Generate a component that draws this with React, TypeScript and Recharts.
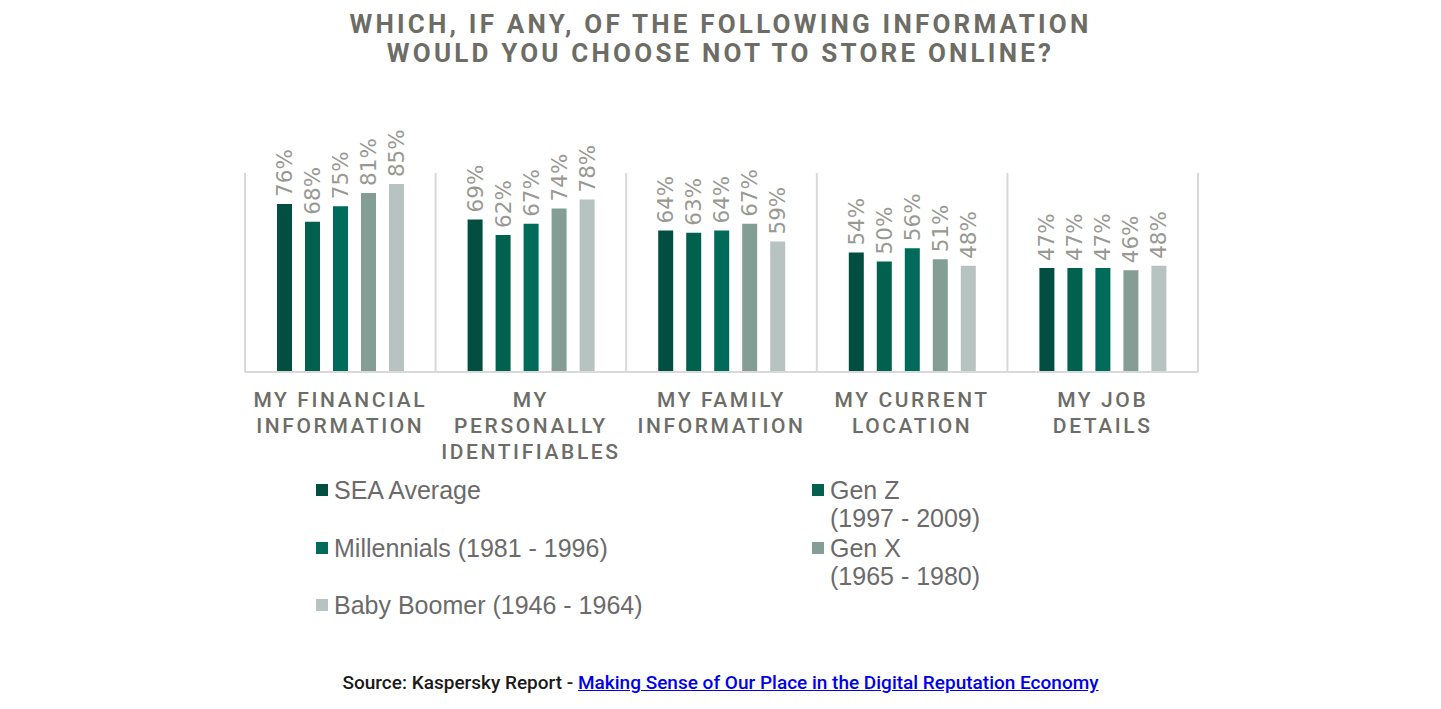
import React from 'react';
import { BarChart, Bar, XAxis, YAxis, ReferenceLine } from 'recharts';

const tickLines = [
  ['MY FINANCIAL', 'INFORMATION'],
  ['MY', 'PERSONALLY', 'IDENTIFIABLES'],
  ['MY FAMILY', 'INFORMATION'],
  ['MY CURRENT', 'LOCATION'],
  ['MY JOB', 'DETAILS'],
];

const seaAverage = [76, 69, 64, 54, 47];
const genZ = [68, 62, 63, 50, 47];
const millennials = [75, 67, 64, 56, 47];
const genX = [81, 74, 67, 51, 46];
const babyBoomer = [85, 78, 59, 48, 48];

const seriesKeys = ['sea', 'genZ', 'millennials', 'genX', 'boomer'];
const seriesColors = ['#024f42', '#02604f', '#006b5a', '#849e96', '#b7c3c0'];
const legendLabels = [
  ['SEA Average'],
  ['Gen Z', '(1997 - 2009)'],
  ['Millennials (1981 - 1996)'],
  ['Gen X', '(1965 - 1980)'],
  ['Baby Boomer (1946 - 1964)'],
];
const gridEdges = [0, 1, 2, 3, 4, 5];

const data = tickLines.map((lines, i) => ({
  name: lines.join(' '),
  idx: i,
  sea: seaAverage[i],
  genZ: genZ[i],
  millennials: millennials[i],
  genX: genX[i],
  boomer: babyBoomer[i],
}));

const GRID = '#d9d9d9';

const CategoryTick = (props: any) => {
  const { x, y, payload } = props;
  const lines = tickLines[payload.index] || [payload.value];
  return (
    <g transform={`translate(${x},${y})`}>
      {lines.map((line, i) => (
        <text
          key={i}
          x={0}
          y={29 + i * 26}
          textAnchor="middle"
          fill="#6d6d68"
          fontSize={21}
          fontWeight={500}
          fontFamily="Roboto"
          letterSpacing={2.6}
        >
          {line}
        </text>
      ))}
    </g>
  );
};

const renderLabel = (props: any) => {
  const { x, y, width, value } = props;
  const cx = Number(x) + Number(width) / 2;
  const ty = Number(y) - 7;
  return (
    <text
      transform={`translate(${cx},${ty}) rotate(-90)`}
      textAnchor="start"
      dominantBaseline="central"
      fill="#999994"
      fontSize={21.5}
      fontFamily="DejaVu Sans"
    >
      {`${value}%`}
    </text>
  );
};

export default function App() {
  return (
    <div style={{ position: 'absolute', left: 0, top: 0, width: 1441, height: 709, background: '#fff' }}>
      <div
        style={{
          position: 'absolute',
          top: 10,
          left: 0,
          width: 1441,
          textAlign: 'center',
          fontFamily: 'Roboto',
          fontWeight: 700,
          fontSize: 26,
          lineHeight: '29px',
          letterSpacing: 3.2,
          color: '#6d6d66',
        }}
      >
        WHICH, IF ANY, OF THE FOLLOWING INFORMATION
        <br />
        WOULD YOU CHOOSE NOT TO STORE ONLINE?
      </div>

      <div style={{ position: 'absolute', left: 0, top: 0 }}>
        <BarChart
          width={1441}
          height={709}
          data={data}
          margin={{ top: 173, right: 243, bottom: 237, left: 245 }}
          barSize={15}
          barGap={13}
        >
          <XAxis
            dataKey="name"
            interval={0}
            height={100}
            tick={<CategoryTick />}
            tickLine={false}
            axisLine={{ stroke: GRID, strokeWidth: 2 }}
            tickMargin={0}
          />
          <XAxis xAxisId="grid" type="number" dataKey="idx" domain={[0, 5]} allowDataOverflow hide />
          <YAxis domain={[0, 90]} hide />
          {gridEdges.map((e) => (
            <ReferenceLine key={e} xAxisId="grid" x={e} stroke={GRID} strokeWidth={2} />
          ))}
          {seriesKeys.map((k, i) => (
            <Bar
              key={k}
              dataKey={k}
              fill={seriesColors[i]}
              isAnimationActive={false}
              label={renderLabel}
            />
          ))}
        </BarChart>
      </div>

      {legendLabels.map((lines, i) => {
        const col = i % 2;
        const row = Math.floor(i / 2);
        const left = col === 0 ? 316 : 812;
        const top = 476 + row * 57.5;
        return (
          <div key={i} style={{ position: 'absolute', left, top }}>
            <div
              style={{
                position: 'absolute',
                left: 0,
                top: 8,
                width: 12,
                height: 12,
                background: seriesColors[i],
              }}
            />
            <div
              style={{
                position: 'absolute',
                left: 18,
                top: 0,
                whiteSpace: 'nowrap',
                fontFamily: 'Liberation Sans',
                fontSize: 25,
                lineHeight: '28px',
                color: '#6b6b6b',
              }}
            >
              {lines.map((l, j) => (
                <div key={j}>{l}</div>
              ))}
            </div>
          </div>
        );
      })}

      <div
        style={{
          position: 'absolute',
          top: 671,
          left: 0,
          width: 1441,
          textAlign: 'center',
          fontFamily: 'Roboto',
          fontWeight: 500,
          fontSize: 19,
          lineHeight: '24px',
          color: '#1a1a1a',
        }}
      >
        Source: Kaspersky Report -{' '}
        <a href="#" style={{ color: '#0000ee', textDecoration: 'underline' }}>
          Making Sense of Our Place in the Digital Reputation Economy
        </a>
      </div>
    </div>
  );
}
